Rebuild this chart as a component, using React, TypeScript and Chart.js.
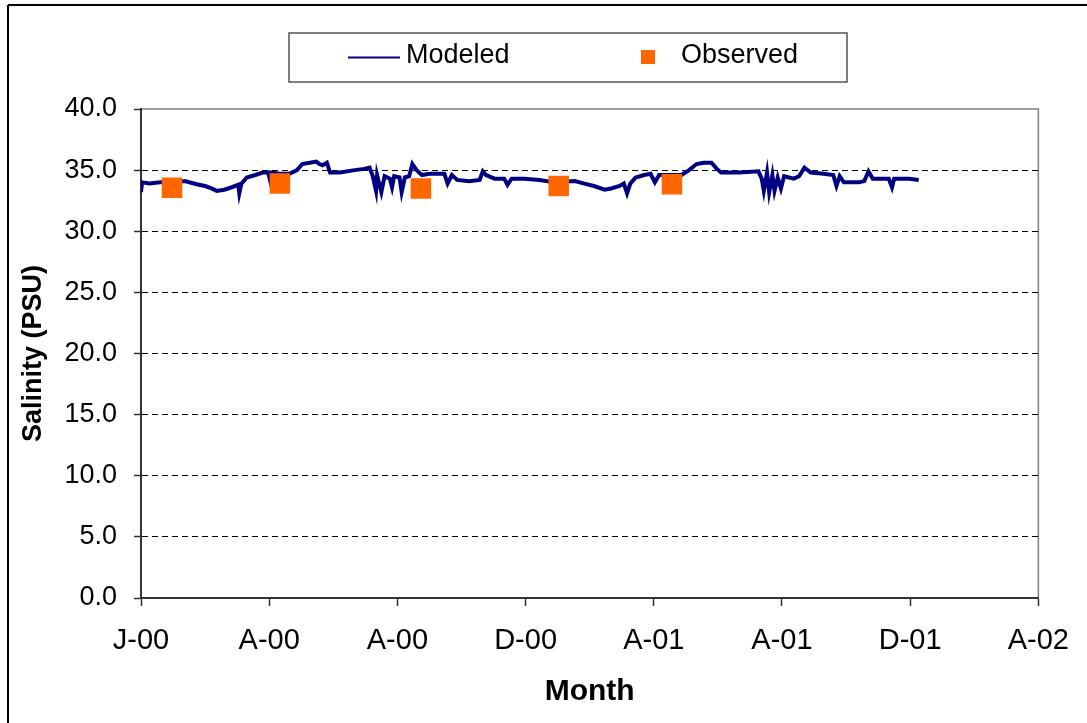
import React, { useEffect, useRef } from "react";
import { Chart, registerables } from "chart.js";

Chart.register(...registerables);

// x axis: days since 1 Jan 2000, ticks every 120 days
const xTickLabels = ["J-00", "A-00", "A-00", "D-00", "A-01", "A-01", "D-01", "A-02"];

const modeledDays = [
  0, 1, 8, 18, 32, 41, 52, 60, 66, 71, 78, 85, 91, 92, 94, 99, 107, 114, 119, 121, 122, 130, 139, 146,
  151, 158, 164, 167, 170, 174, 177, 186, 200, 209, 214, 217, 220, 221, 225, 228, 233, 235, 237, 242,
  244, 247, 251, 254, 258, 263, 270, 284, 287, 291, 296, 307, 317, 320, 323, 331, 340, 343, 347, 359,
  373, 387, 406, 415, 424, 434, 440, 448, 452, 455, 458, 463, 471, 477, 481, 485, 494, 506, 513, 520,
  527, 534, 539, 543, 560, 578, 581, 583, 586, 588, 591, 593, 596, 599, 602, 611, 616, 621, 627, 639,
  648, 651, 654, 658, 672, 677, 681, 685, 700, 703, 705, 719, 728,
];
const modeledSalinity = [
  33.2, 34.0, 33.9, 34.0, 34.0, 34.1, 33.85, 33.7, 33.5, 33.3, 33.4, 33.6, 33.8, 33.1, 33.9, 34.4, 34.6,
  34.8, 34.8, 34.1, 34.8, 34.7, 34.7, 35.0, 35.5, 35.6, 35.7, 35.5, 35.4, 35.6, 34.8, 34.8, 35.0, 35.1,
  35.2, 34.5, 33.3, 34.6, 33.2, 34.5, 34.3, 33.6, 34.5, 34.4, 33.2, 34.4, 34.5, 35.5, 35.0, 34.6, 34.7,
  34.7, 33.9, 34.6, 34.2, 34.1, 34.2, 34.9, 34.6, 34.3, 34.3, 33.8, 34.3, 34.3, 34.2, 34.0, 34.1, 33.9,
  33.7, 33.4, 33.5, 33.7, 33.9, 33.1, 33.9, 34.4, 34.6, 34.7, 34.0, 34.6, 34.6, 34.6, 35.0, 35.5, 35.6,
  35.6, 35.1, 34.8, 34.8, 34.9, 34.3, 33.3, 34.8, 33.2, 34.6, 33.3, 34.4, 33.5, 34.5, 34.3, 34.5, 35.2,
  34.8, 34.7, 34.6, 33.7, 34.5, 34.0, 34.0, 34.1, 34.9, 34.3, 34.3, 33.6, 34.3, 34.3, 34.2,
];

const observedDays = [29, 130, 262, 391, 497];
const observedSalinity = [33.55, 33.9, 33.5, 33.7, 33.85];

const FONT = "'Liberation Sans', Arial, sans-serif";

const decorPlugin = {
  id: "decor",
  beforeDraw(chart: any) {
    const ctx = chart.ctx;
    ctx.save();
    ctx.fillStyle = "#fff";
    ctx.fillRect(0, 0, chart.width, chart.height);
    // outer frame
    ctx.strokeStyle = "#000";
    ctx.lineWidth = 2;
    ctx.beginPath();
    ctx.moveTo(8, 5);
    ctx.lineTo(chart.width + 5, 5);
    ctx.moveTo(8, 5);
    ctx.lineTo(8, chart.height + 5);
    ctx.stroke();
    // plot area border (top & right)
    const a = chart.chartArea;
    ctx.strokeStyle = "#808080";
    ctx.lineWidth = 1.5;
    ctx.beginPath();
    ctx.moveTo(a.left, a.top);
    ctx.lineTo(a.right, a.top);
    ctx.lineTo(a.right, a.bottom);
    ctx.stroke();
    ctx.restore();
  },
  afterDraw(chart: any) {
    const ctx = chart.ctx;
    ctx.save();
    // legend box
    ctx.strokeStyle = "#555";
    ctx.lineWidth = 1.5;
    ctx.strokeRect(289, 33, 558, 49);
    ctx.strokeStyle = "#000080";
    ctx.lineWidth = 2;
    ctx.beginPath();
    ctx.moveTo(348, 57.5);
    ctx.lineTo(400, 57.5);
    ctx.stroke();
    ctx.fillStyle = "#FF6600";
    ctx.fillRect(641, 50, 14, 14);
    ctx.fillStyle = "#000";
    ctx.font = `27px ${FONT}`;
    ctx.textBaseline = "middle";
    ctx.textAlign = "left";
    ctx.fillText("Modeled", 406, 56);
    ctx.fillText("Observed", 681, 56);
    ctx.restore();
  },
};

export default function App() {
  const ref = useRef<HTMLCanvasElement>(null);
  useEffect(() => {
    if (!ref.current) return;
    const chart = new Chart(ref.current, {
      type: "line",
      data: {
        datasets: [
          {
            label: "Modeled",
            data: modeledDays.map((d, i) => ({ x: d, y: modeledSalinity[i] })),
            borderColor: "#000080",
            backgroundColor: "#000080",
            borderWidth: 4,
            pointRadius: 0,
            tension: 0,
            order: 2,
          },
          {
            label: "Observed",
            data: observedDays.map((d, i) => ({ x: d, y: observedSalinity[i] })),
            showLine: false,
            pointStyle: "rect",
            pointRadius: 14.5,
            pointBackgroundColor: "#FF6600",
            pointBorderColor: "#FF6600",
            pointBorderWidth: 0,
            order: 1,
          },
        ],
      },
      options: {
        animation: false,
        responsive: false,
        devicePixelRatio: 1,
        layout: { padding: { left: 0, top: 109, right: 47, bottom: 0 } },
        plugins: { legend: { display: false }, tooltip: { enabled: false } },
        scales: {
          x: {
            type: "linear",
            min: 0,
            max: 840,
            afterFit: (s: any) => {
              s.height = 125;
            },
            afterBuildTicks: (s: any) => {
              s.ticks = xTickLabels.map((_, i) => ({ value: i * 120 }));
            },
            ticks: {
              autoSkip: false,
              maxRotation: 0,
              padding: 18,
              color: "#000",
              font: { family: FONT, size: 29 },
              callback: (_v: any, i: number) => xTickLabels[i],
            },
            grid: { drawOnChartArea: false, tickLength: 8, tickColor: "#333", tickWidth: 1.5 },
            border: { color: "#333", width: 2 },
            title: {
              display: true,
              text: "Month",
              color: "#000",
              font: { family: FONT, size: 30, weight: "bold" },
              padding: { top: 0, bottom: 13 },
            },
          },
          y: {
            min: 0,
            max: 40,
            afterFit: (s: any) => {
              s.width = 141;
            },
            ticks: {
              stepSize: 5,
              padding: 17,
              color: "#000",
              font: { family: FONT, size: 27 },
              callback: (v: any) => Number(v).toFixed(1),
            },
            grid: {
              color: (c: any) =>
                c.tick && (c.tick.value === 0 || c.tick.value === 40) ? "rgba(0,0,0,0)" : "#000",
              lineWidth: 1,
              tickLength: 7,
              tickColor: "#333",
              tickWidth: 1.5,
            },
            border: { color: "#333", width: 2, dash: [6, 4] },
            title: {
              display: true,
              text: "Salinity (PSU)",
              color: "#000",
              font: { family: FONT, size: 27, weight: "bold" },
              padding: { top: 17, bottom: 0 },
            },
          },
        },
      },
      plugins: [decorPlugin],
    } as any);
    return () => chart.destroy();
  }, []);
  return (
    <canvas
      ref={ref}
      width={1087}
      height={723}
      style={{ position: "fixed", left: 0, top: 0, width: 1087, height: 723 }}
    />
  );
}
